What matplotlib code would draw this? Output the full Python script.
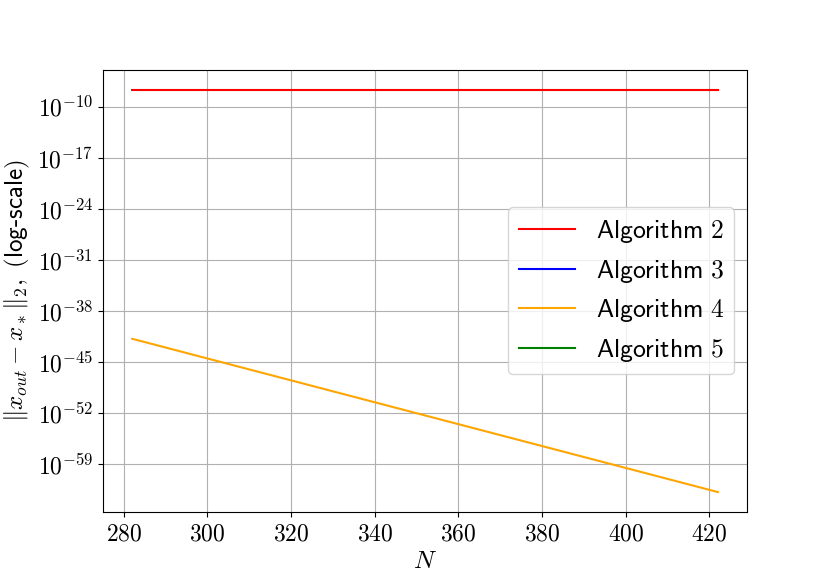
import numpy as np
import matplotlib
matplotlib.use("Agg")
import matplotlib.pyplot as plt

plt.rcParams['mathtext.fontset'] = 'cm'
plt.rcParams['font.family'] = ['DejaVu Sans']

N = [282, 302, 322, 342, 362, 382, 402, 422]
alg2 = [2.1e-8] * 8
alg3 = [0.0] * 8
alg4 = [1.6e-42, 1.6e-45, 1.6e-48, 1.6e-51, 1.6e-54, 1.6e-57, 1.6e-60, 1.6e-63]
alg5 = [0.0] * 8

fig = plt.figure(figsize=(8.3, 5.86), dpi=100)
ax = fig.add_axes([0.124, 0.126, 0.776, 0.755])
ax.plot(N, alg2, color='red', label=r'$\mathsf{Algorithm\ 2}$')
ax.plot(N, alg3, color='blue', label=r'$\mathsf{Algorithm\ 3}$')
ax.plot(N, alg4, color='orange', label=r'$\mathsf{Algorithm\ 4}$')
ax.plot(N, alg5, color='green', label=r'$\mathsf{Algorithm\ 5}$')
ax.set_yscale('log', nonpositive='mask')
ax.set_yticks([10.0**e for e in (-10, -17, -24, -31, -38, -45, -52, -59)])
ax.set_yticklabels([r'$10^{%d}$' % e for e in (-10, -17, -24, -31, -38, -45, -52, -59)])
ax.minorticks_off()
ax.set_xticks([280, 300, 320, 340, 360, 380, 400, 420])
ax.set_xticklabels([r'$%d$' % v for v in [280, 300, 320, 340, 360, 380, 400, 420]])
ax.tick_params(labelsize=17)
ax.grid(True, color='#b0b0b0')
ax.set_xlabel(r'$N$', fontsize=18, labelpad=2)
ax.set_ylabel(r'$\|x_{out}-x_*\|_2,\ \mathsf{(log\text{-}scale)}$', fontsize=18)
ax.legend(fontsize=18.5, loc='center right', handlelength=2.2)
fig.savefig('out.png', dpi=100)
